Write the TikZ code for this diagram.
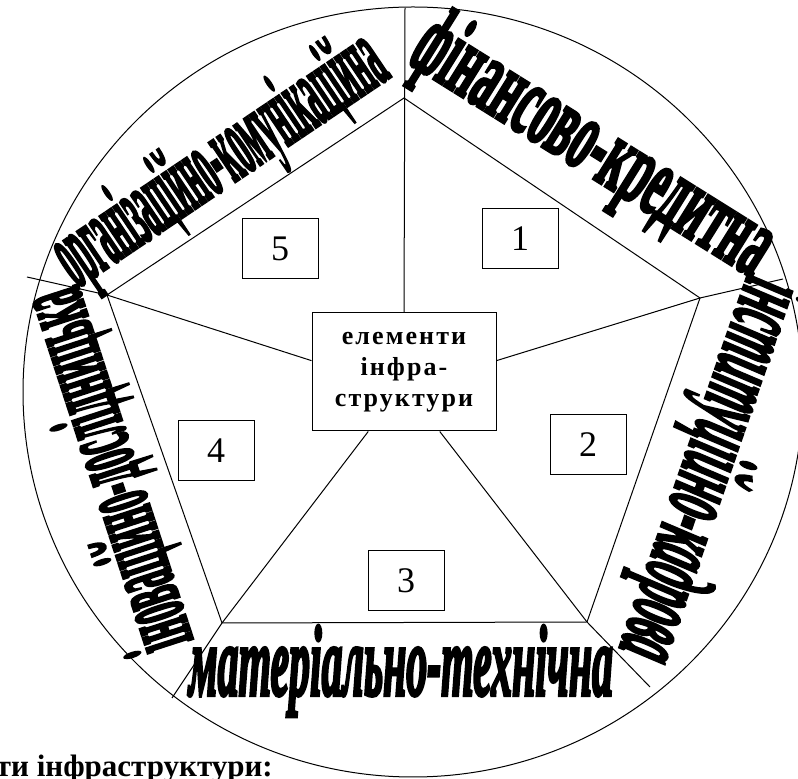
\documentclass[tikz,border=0pt]{standalone}
\usepackage{graphicx}
\usepackage{fontspec}
\setmainfont{Liberation Serif}[
  BoldFont={Liberation Serif Bold},
  ItalicFont={Liberation Serif Italic},
  BoldItalicFont={Liberation Serif Bold Italic}]
\usetikzlibrary{positioning}
\tikzset{
  edge/.style={line width=1pt},
  numbox/.style={draw,line width=1pt,minimum width=76pt,minimum height=60pt,
                 font=\fontsize{36}{36}\selectfont},
  core/.style={draw,line width=1pt,minimum width=184pt,minimum height=118pt,align=center,
               font=\fontsize{26}{31}\selectfont\bfseries\addfontfeature{LetterSpace=8}},
  ring/.style={inner sep=0pt,font=\fontsize{100}{100}\selectfont\bfseries\addfontfeature{FakeBold=4}},
}
\newcommand{\fitw}[2]{\resizebox{#1}{\height}{#2}}

\begin{document}
\begin{tikzpicture}[x=1pt,y=1pt]
  \useasboundingbox (0,0) rectangle (798,779);
  \coordinate (cen) at (413,387);
  % pentagon corners
  \coordinate (pT)  at (404,681);
  \coordinate (pR)  at (700,481);
  \coordinate (pBR) at (587,157);
  \coordinate (pBL) at (222,156);
  \coordinate (pL)  at (107,484);
  % ends on the rim
  \coordinate (oT)  at (405,771);
  \coordinate (oR)  at (783,500);
  \coordinate (oBR) at (650,92);
  \coordinate (oBL) at (172,81);
  \coordinate (oL)  at (27,502);
  % rim
  \draw[edge] (cen) ellipse [x radius=390,y radius=385];
  % centre
  \node[core] (ctr) at (404,407) {елементи\\інфра-\\структури};
  \draw[edge] (pT) -- (pR) -- (pBR) -- (pBL) -- (pL) -- cycle;
  \draw[edge] (ctr.north) -- (oT);
  \draw[edge] (ctr.7) -- (pR) -- (oR);
  \draw[edge] (ctr.301) -- (pBR) -- (oBR);
  \draw[edge] (ctr.239) -- (pBL) -- (oBL);
  \draw[edge] (ctr.173) -- (pL) -- (oL);
  % numbers
  \node[numbox] (n1) at (520,540) {1};
  \node[numbox] (n2) at (588,334) {2};
  \node[numbox] (n3) at (406,198) {3};
  \node[numbox] (n4) at (216,328) {4};
  \node[numbox] (n5) at (280,530) {5};
  % kinds of infrastructure
  \node[ring,rotate=-32] (fin) at (592,630) {\fitw{408pt}{фінансово-кредитна}};
  \node[ring,rotate=-109] (inst) at (708,309) {\fitw{398pt}{\itshape інституційно-кадрова}};
  \node[ring,anchor=base] (mat) at (401,84) {\fitw{424pt}{\itshape матеріально-технічна}};
  \node[ring,rotate=108] (inov) at (110,309) {\fitw{375pt}{іноваційно-дослідницька}};
  \node[ring,rotate=34] (org) at (221,617) {\fitw{380pt}{організаційно-комунікаційна}};
  % caption, cut at the page edge
  \node[anchor=base east,inner sep=0pt,font=\fontsize{31}{31}\selectfont\bfseries] (capt) at (273,2)
    {ти інфраструктури:};
\end{tikzpicture}
\end{document}
